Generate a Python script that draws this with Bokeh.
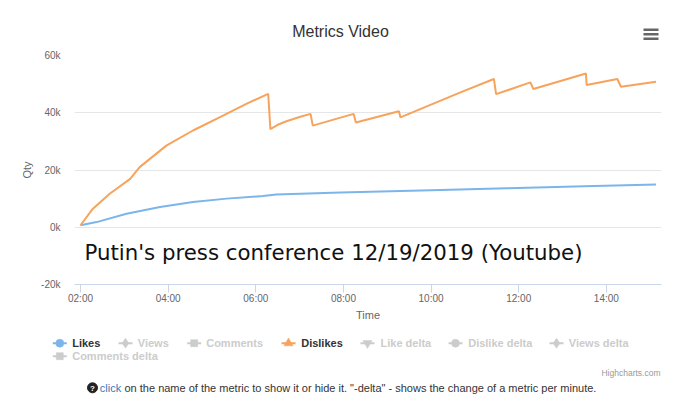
import pandas as pd
from bokeh.plotting import figure
from bokeh.models import Range1d, FixedTicker, Label
from bokeh.embed import file_html
from bokeh.resources import INLINE
from bokeh.core.properties import value

DAY = "2019-12-19 "

# ---- data -------------------------------------------------------------
likes_time = ["02:00", "02:22", "03:03", "03:49", "04:34", "05:20", "06:10", "06:28",
              "07:01", "07:56", "10:00", "11:44", "13:30", "15:08"]
likes_qty = [700, 1800, 4700, 7100, 8800, 10000, 10900, 11400,
             11700, 12100, 12900, 13600, 14300, 14950]

dislikes_time = ["02:00", "02:17", "02:40", "03:08", "03:21", "03:58", "04:34", "05:11",
                 "05:47", "06:17", "06:20", "06:30", "06:43", "07:01", "07:15", "07:18",
                 "07:56", "08:14", "08:17", "09:16", "09:18", "10:41", "11:26", "11:29",
                 "12:16", "12:20", "13:32", "13:33", "14:15", "14:20", "15:08"]
dislikes_qty = [700, 6500, 11700, 16900, 21000, 28600, 33800, 38500,
                43100, 46600, 34300, 35800, 37100, 38600, 39600, 35500,
                38300, 39600, 36600, 40500, 38400, 47200, 51800, 46500,
                50600, 48300, 53700, 49700, 51800, 49100, 50800]

x_tick_labels = ["02:00", "04:00", "06:00", "08:00", "10:00", "12:00", "14:00"]
y_ticks = [-20000, 0, 20000, 40000, 60000]
y_tick_labels = ["-20k", "0k", "20k", "40k", "60k"]

legend_names = ["Likes", "Views", "Comments", "Dislikes", "Like delta",
                "Dislike delta", "Views delta", "Comments delta"]
legend_visible = [True, False, False, True, False, False, False, False]
legend_colors = ["#7cb5ec", "#cccccc", "#cccccc", "#f7a35c", "#cccccc",
                 "#cccccc", "#cccccc", "#cccccc"]
legend_markers = ["circle", "diamond", "square", "triangle", "inverted_triangle",
                  "circle", "diamond", "square"]

title_text = "Metrics Video"
overlay_text = "Putin's press conference 12/19/2019 (Youtube)"
note_link = "click"
note_text = 'on the name of the metric to show it or hide it. "-delta" - shows the change of a metric per minute.'
credits_text = "Highcharts.com"

FNAME = "Liberation Sans"
FONT = value(FNAME)
W = 672


def ts(t):
    return pd.Timestamp(DAY + t)


def ms(t):
    return pd.Timestamp(DAY + t).value // 10**6


likes_x = [ts(t) for t in likes_time]
dislikes_x = [ts(t) for t in dislikes_time]


def blank(height, top):
    f = figure(width=W, height=height, x_range=Range1d(0, W),
               y_range=Range1d(top + height, top), output_backend="svg",
               toolbar_location=None, min_border=0, x_axis_location=None,
               y_axis_location=None, title=None)
    f.grid.visible = False
    f.outline_line_color = None
    return f


# ---- header: page y 0..45 -----------------------------------------------
hdr = blank(45, 0)
hdr.text(x=[340], y=[30.5], text=[title_text], text_font=FONT, text_font_size="16px",
         text_color="#333333", text_align="center", text_baseline="middle")
hdr.rect(x=[650.5, 650.5, 650.5], y=[29.3, 33.7, 38.3], width=15, height=2.6,
         fill_color="#666666", line_color=None)

# ---- main chart: page y 45..330, frame x 74..661, y 55..284 ---------------
p = figure(frame_width=587, frame_height=229, x_axis_type="datetime",
           x_range=Range1d(ts("01:51:47"), ts("15:15:29")),
           y_range=Range1d(-20000, 60000),
           output_backend="svg", toolbar_location=None, title=None,
           min_border_left=74, min_border_right=11, min_border_top=10,
           min_border_bottom=46)
p.outline_line_color = None
p.xgrid.grid_line_color = None
p.ygrid.grid_line_color = "#e6e6e6"
p.ygrid.grid_line_width = 1

xt = [ms(t) for t in x_tick_labels]
p.xaxis.ticker = FixedTicker(ticks=xt)
p.xaxis.major_label_overrides = {k: v for k, v in zip(xt, x_tick_labels)}
p.xaxis.axis_line_color = "#ccd6eb"
p.xaxis.major_tick_line_color = "#ccd6eb"
p.xaxis.major_tick_in = 0
p.xaxis.major_tick_out = 8
p.xaxis.minor_tick_line_color = None
p.xaxis.minor_tick_out = 0
p.xaxis.major_label_standoff = 0
p.xaxis.major_label_text_font = FNAME
p.xaxis.major_label_text_font_size = "10px"
p.xaxis.major_label_text_color = "#666666"
p.xaxis.axis_label = "Time"
p.xaxis.axis_label_text_font = FNAME
p.xaxis.axis_label_text_font_size = "11px"
p.xaxis.axis_label_text_font_style = "normal"
p.xaxis.axis_label_text_color = "#666666"
p.xaxis.axis_label_standoff = 2

p.yaxis.ticker = FixedTicker(ticks=y_ticks)
p.yaxis.major_label_overrides = {k: v for k, v in zip(y_ticks, y_tick_labels)}
p.yaxis.axis_line_color = None
p.yaxis.major_tick_line_color = None
p.yaxis.minor_tick_line_color = None
p.yaxis.major_tick_out = 0
p.yaxis.major_tick_in = 0
p.yaxis.minor_tick_out = 0
p.yaxis.major_label_standoff = 14
p.yaxis.major_label_text_font = FNAME
p.yaxis.major_label_text_font_size = "10px"
p.yaxis.major_label_text_color = "#666666"
p.yaxis.axis_label = "Qty"
p.yaxis.axis_label_text_font = FNAME
p.yaxis.axis_label_text_font_size = "11px"
p.yaxis.axis_label_text_font_style = "normal"
p.yaxis.axis_label_text_color = "#666666"
p.yaxis.axis_label_standoff = 5

p.line(likes_x, likes_qty, line_color="#7cb5ec", line_width=2)
p.line(dislikes_x, dislikes_qty, line_color="#f7a35c", line_width=2)

p.add_layout(Label(x=10, y=31.7, x_units="screen", y_units="screen", text=overlay_text,
                   text_font="DejaVu Sans", text_font_size="21.3px",
                   text_color="#111111", text_baseline="middle", text_align="left"))

# ---- legend + notes: page y 330..406 -------------------------------------
leg = blank(76, 330)

sym_x = [59.3, 125.0, 193.7, 288.0, 367.0, 455.0, 556.0, 59.3]
txt_x = [71.7, 137.3, 205.7, 300.7, 380.0, 467.7, 568.3, 71.7]
row_y = [342.7, 342.7, 342.7, 342.7, 342.7, 342.7, 342.7, 355.7]

for i, name in enumerate(legend_names):
    c = legend_colors[i]
    cx, cy = sym_x[i], row_y[i]
    leg.segment(x0=[cx - 7], y0=[cy], x1=[cx + 7], y1=[cy], line_color=c, line_width=2)
    m = legend_markers[i]
    sz = {"circle": 8, "square": 7, "diamond": 10, "triangle": 9,
          "inverted_triangle": 9}[m]
    leg.scatter(x=[cx], y=[cy], marker=m, size=sz, fill_color=c, line_color=c,
                line_width=0.5)
    leg.text(x=[txt_x[i]], y=[cy], text=[name], text_font=FONT,
             text_font_size="11px", text_font_style="bold",
             text_color="#333333" if legend_visible[i] else "#cccccc",
             text_baseline="middle", text_align="left")

leg.text(x=[660], y=[372.3], text=[credits_text], text_font=FONT,
         text_font_size="8.5px", text_color="#999999", text_align="right",
         text_baseline="middle")

leg.scatter(x=[92], y=[387.3], marker="circle", size=10, fill_color="#222222",
            line_color="#222222")
leg.text(x=[92], y=[387.6], text=["?"], text_font=FONT, text_font_size="8px",
         text_font_style="bold", text_color="#ffffff", text_align="center",
         text_baseline="middle")
leg.text(x=[99.3], y=[387.3], text=[note_link], text_font=FONT, text_font_size="11px",
         text_color="#337ab7", text_align="left", text_baseline="middle")
leg.text(x=[124], y=[387.3], text=[note_text], text_font=FONT, text_font_size="11px",
         text_color="#333333", text_align="left", text_baseline="middle")

open("out.html", "w").write(file_html([hdr, p, leg], INLINE))
